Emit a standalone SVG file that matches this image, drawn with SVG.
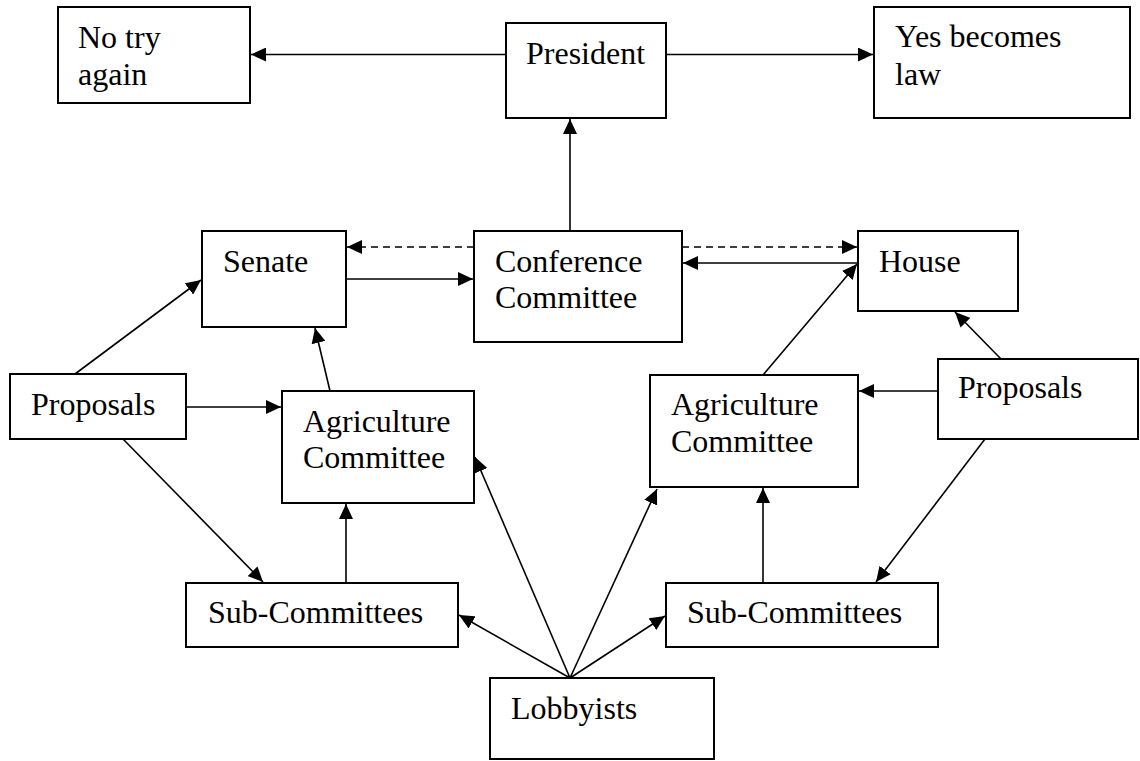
<svg xmlns="http://www.w3.org/2000/svg" width="1140" height="761" viewBox="0 0 1140 761">
<style>
.box{fill:#fff;stroke:#000;stroke-width:2}
.t{font-family:"Liberation Serif","Times New Roman",serif;font-size:32px;fill:#000}
.c{stroke:#000;stroke-width:1.6;fill:none;marker-end:url(#ah)}
.d{stroke-dasharray:7,5}
</style>
<defs>
<marker id="ah" markerUnits="userSpaceOnUse" markerWidth="16" markerHeight="14" refX="15" refY="7" orient="auto">
<path d="M0,0 L15,7 L0,14 z" fill="#000"/>
</marker>
</defs>
<rect width="1140" height="761" fill="#fff"/>
<g id="connectors">
<line class="c" x1="506" y1="54.5" x2="251" y2="54.5"/>
<line class="c" x1="666" y1="54.5" x2="873" y2="54.5"/>
<line class="c" x1="570" y1="231" x2="570" y2="119"/>
<line class="c d" x1="474" y1="247" x2="347" y2="247"/>
<line class="c" x1="346" y1="279" x2="473" y2="279"/>
<line class="c d" x1="682" y1="247" x2="857" y2="247"/>
<line class="c" x1="858" y1="263" x2="683" y2="263"/>
<line class="c" x1="75" y1="374" x2="201" y2="280"/>
<line class="c" x1="186" y1="407" x2="281" y2="407"/>
<line class="c" x1="330" y1="391" x2="315" y2="328"/>
<line class="c" x1="123" y1="439" x2="263" y2="582"/>
<line class="c" x1="346" y1="583" x2="346" y2="504"/>
<line class="c" x1="938" y1="391" x2="859" y2="391"/>
<line class="c" x1="1001" y1="359" x2="955" y2="312"/>
<line class="c" x1="763" y1="375" x2="857" y2="264"/>
<line class="c" x1="985" y1="439" x2="876" y2="582"/>
<line class="c" x1="763" y1="583" x2="763" y2="488"/>
<line class="c" x1="570" y1="678" x2="475" y2="457"/>
<line class="c" x1="570" y1="678" x2="459" y2="615"/>
<line class="c" x1="570" y1="678" x2="657" y2="489"/>
<line class="c" x1="570" y1="678" x2="665" y2="616"/>
</g>
<g id="no-try-again"><rect class="box" x="58" y="7" width="192" height="96"/><text class="t" x="78" y="48">No try</text><text class="t" x="78" y="85">again</text></g>
<g id="president"><rect class="box" x="506" y="23" width="160" height="95"/><text class="t" x="526" y="64">President</text></g>
<g id="yes-becomes-law"><rect class="box" x="874" y="7" width="256" height="111"/><text class="t" x="895" y="47">Yes becomes</text><text class="t" x="895" y="85">law</text></g>
<g id="senate"><rect class="box" x="202" y="231" width="144" height="96"/><text class="t" x="223" y="272">Senate</text></g>
<g id="conference-committee"><rect class="box" x="474" y="231" width="208" height="111"/><text class="t" x="495" y="272">Conference</text><text class="t" x="495" y="308">Committee</text></g>
<g id="house"><rect class="box" x="858" y="231" width="160" height="80"/><text class="t" x="879" y="272">House</text></g>
<g id="proposals-left"><rect class="box" x="10" y="374" width="176" height="65"/><text class="t" x="31" y="415">Proposals</text></g>
<g id="agriculture-left"><rect class="box" x="282" y="391" width="192" height="112"/><text class="t" x="303" y="432">Agriculture</text><text class="t" x="303" y="468">Committee</text></g>
<g id="agriculture-right"><rect class="box" x="650" y="375" width="208" height="112"/><text class="t" x="671" y="415">Agriculture</text><text class="t" x="671" y="452">Committee</text></g>
<g id="proposals-right"><rect class="box" x="938" y="359" width="200" height="80"/><text class="t" x="958" y="398">Proposals</text></g>
<g id="subcommittees-left"><rect class="box" x="186" y="583" width="272" height="64"/><text class="t" x="208" y="623">Sub-Committees</text></g>
<g id="subcommittees-right"><rect class="box" x="666" y="583" width="272" height="64"/><text class="t" x="687" y="623">Sub-Committees</text></g>
<g id="lobbyists"><rect class="box" x="490" y="678" width="224" height="81"/><text class="t" x="511" y="719">Lobbyists</text></g>
</svg>
